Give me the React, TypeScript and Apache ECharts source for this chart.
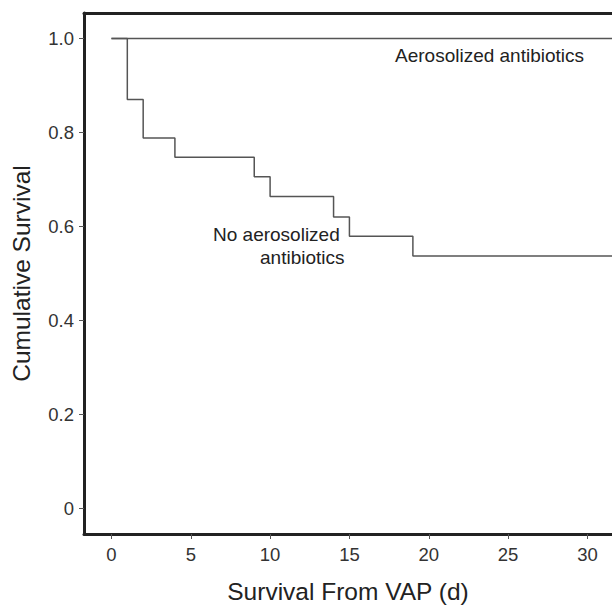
import React, { useEffect, useRef } from "react";
import * as echarts from "echarts";

const xTicks = [0, 5, 10, 15, 20, 25, 30];
const yTicks = [0, 0.2, 0.4, 0.6, 0.8, 1.0];

// Kaplan-Meier steps: [day, cumulative survival]
const aerosolized: [number, number][] = [
  [0, 1.0],
  [32, 1.0],
];
const noAerosolized: [number, number][] = [
  [0, 1.0],
  [1, 0.87],
  [2, 0.788],
  [4, 0.747],
  [9, 0.706],
  [10, 0.664],
  [14, 0.62],
  [15, 0.579],
  [19, 0.537],
  [32, 0.537],
];

const FONT = "'Liberation Sans', Arial, Helvetica, sans-serif";

export default function App() {
  const ref = useRef<HTMLDivElement>(null);
  useEffect(() => {
    if (!ref.current) return;
    const chart = echarts.init(ref.current, undefined, { renderer: "svg" });
    const frame = { color: "#222", width: 3 };
    chart.setOption({
      animation: false,
      backgroundColor: "#fff",
      textStyle: { fontFamily: FONT },
      grid: { left: 84, top: 13, right: 0, bottom: 65, containLabel: false },
      xAxis: [
        {
          type: "value",
          min: -1.73,
          max: 31.55,
          name: "Survival From VAP (d)",
          nameLocation: "middle",
          nameGap: 45,
          nameTextStyle: { fontSize: 24.5, color: "#222", fontFamily: FONT },
          axisLine: { show: true, onZero: false, lineStyle: frame },
          axisTick: {
            show: true,
            length: 5,
            customValues: xTicks,
            lineStyle: { color: "#555", width: 1 },
          },
          axisLabel: {
            customValues: xTicks,
            fontSize: 18.5,
            color: "#333",
            margin: 11,
            fontFamily: FONT,
          },
          splitLine: { show: false },
        },
        {
          type: "value",
          position: "top",
          min: -1.73,
          max: 31.55,
          axisLine: { show: true, onZero: false, lineStyle: frame },
          axisTick: { show: false },
          axisLabel: { show: false },
          splitLine: { show: false },
        },
      ],
      yAxis: {
        type: "value",
        min: -0.054,
        max: 1.054,
        name: "Cumulative Survival",
        nameLocation: "middle",
        nameGap: 50,
        nameTextStyle: { fontSize: 24.5, color: "#222", fontFamily: FONT },
        axisLine: { show: true, onZero: false, lineStyle: frame },
        axisTick: {
          show: true,
          length: 5,
          customValues: yTicks,
          lineStyle: { color: "#555", width: 1 },
        },
        axisLabel: {
          customValues: yTicks,
          fontSize: 18.5,
          color: "#333",
          margin: 10,
          fontFamily: FONT,
          formatter: (v: number) => (v === 0 ? "0" : v.toFixed(1)),
        },
        splitLine: { show: false },
      },
      series: [
        {
          type: "line",
          name: "Aerosolized antibiotics",
          data: aerosolized,
          step: "end",
          symbol: "none",
          clip: true,
          lineStyle: { color: "#555", width: 1.5 },
        },
        {
          type: "line",
          name: "No aerosolized antibiotics",
          data: noAerosolized,
          step: "end",
          symbol: "none",
          clip: true,
          lineStyle: { color: "#555", width: 1.5 },
        },
      ],
      graphic: [
        {
          type: "text",
          left: 395,
          top: 46,
          style: { text: "Aerosolized antibiotics", font: `19px ${FONT}`, fill: "#222" },
        },
        {
          type: "text",
          left: 213,
          top: 225,
          style: { text: "No aerosolized", font: `19px ${FONT}`, fill: "#222" },
        },
        {
          type: "text",
          left: 260,
          top: 248,
          style: { text: "antibiotics", font: `19px ${FONT}`, fill: "#222" },
        },
      ],
    });
    return () => chart.dispose();
  }, []);
  return (
    <div
      ref={ref}
      style={{ position: "absolute", left: 0, top: 0, width: 612, height: 609 }}
    />
  );
}
